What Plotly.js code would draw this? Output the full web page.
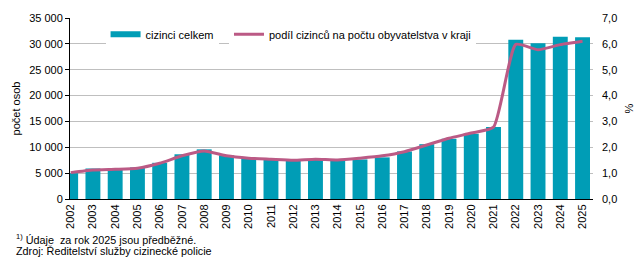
<!DOCTYPE html>
<html>
<head>
<meta charset="utf-8">
<script src="https://cdn.plot.ly/plotly-3.0.1.min.js"></script>
<style>
html,body{margin:0;padding:0;background:#fff;}
#chart{width:643px;height:265px;}
</style>
</head>
<body>
<div id="chart"></div>
<script>
const years = ['2002','2003','2004','2005','2006','2007','2008','2009','2010','2011','2012','2013','2014','2015','2016','2017','2018','2019','2020','2021','2022','2023','2024','2025'];
const cizinciCelkem = [5000,5900,5700,6100,7000,8650,9600,8450,8000,7630,7500,7600,7500,7650,8050,9200,10600,11650,12600,13900,30780,30100,31360,31300];
const podilCizincu = [1.02,1.12,1.15,1.19,1.38,1.67,1.86,1.67,1.58,1.54,1.50,1.54,1.51,1.58,1.67,1.83,2.09,2.35,2.55,2.78,5.98,5.77,5.97,6.10];
const leftTicks = [0,5000,10000,15000,20000,25000,30000,35000];
const rightTicks = [0,1,2,3,4,5,6,7];

const fam = 'Liberation Sans, Arial, sans-serif';
const font = {family:fam, size:11, color:'#000'};
const barColor = '#009db6';
const lineColor = '#bb5a85';

const traces = [
  {type:'bar', name:'cizinci celkem', x:years, y:cizinciCelkem, marker:{color:barColor}, width:0.67, yaxis:'y', hoverinfo:'skip', showlegend:false},
  {type:'scatter', mode:'lines', name:'cizinci celkem', x:[null], y:[null], yaxis:'y', line:{color:barColor, width:6}, hoverinfo:'skip', showlegend:true, legend:'legend'},
  {type:'scatter', mode:'lines', name:'podíl cizinců na počtu obyvatelstva v kraji', x:years, y:podilCizincu, yaxis:'y2', line:{color:lineColor, width:3, shape:'spline', smoothing:0.5}, cliponaxis:false, hoverinfo:'skip', legend:'legend2'}
];

const legendCommon = {orientation:'h', y:0.99, xanchor:'left', yanchor:'top', bgcolor:'rgba(255,255,255,1)', font:{family:fam,size:11,color:'#000'}};

const layout = {
  width:643, height:265,
  margin:{l:70, r:50, t:18, b:66},
  paper_bgcolor:'#fff', plot_bgcolor:'#fff',
  font:font,
  separators:', ',
  showlegend:true,
  legend:Object.assign({x:0.068}, legendCommon),
  legend2:Object.assign({x:0.304}, legendCommon),
  bargap:0.33,
  xaxis:{type:'category', range:[-0.03,23.47], tickangle:-90, showgrid:false, showline:true, linecolor:'#000', linewidth:1, ticks:'', tickfont:{family:fam,size:11,color:'#000'}, fixedrange:true},
  yaxis:{range:[0,35000], tickvals:leftTicks, tickformat:',d', showgrid:true, gridcolor:'#bfbfbf', gridwidth:1, showline:true, linecolor:'#000', linewidth:1, ticks:'outside', ticklen:4, tickcolor:'#000', zeroline:false, title:{text:'počet osob', font:{family:fam,size:11,color:'#000'}, standoff:6}, tickfont:{family:fam,size:11,color:'#000'}},
  yaxis2:{range:[0,7], tickvals:rightTicks, tickformat:'.1f', overlaying:'y', side:'right', showgrid:false, showline:false, ticks:'', zeroline:false, title:{text:'%', font:{family:fam,size:11,color:'#000'}, standoff:9}, tickfont:{family:fam,size:11,color:'#000'}, ticklabelstandoff:8},
  annotations:[
    {xref:'paper', yref:'paper', x:-0.107, y:0, xanchor:'left', yanchor:'top', yshift:-31, showarrow:false, align:'left', text:'<sup>1)</sup> Údaje  za rok 2025 jsou předběžné.', font:{family:fam,size:10.8,color:'#000'}},
    {xref:'paper', yref:'paper', x:-0.107, y:0, xanchor:'left', yanchor:'top', yshift:-44, showarrow:false, align:'left', text:'Zdroj: Ředitelství služby cizinecké policie', font:{family:fam,size:10.8,color:'#000'}}
  ]
};

Plotly.newPlot('chart', traces, layout, {displayModeBar:false, staticPlot:true});
</script>
</body>
</html>
